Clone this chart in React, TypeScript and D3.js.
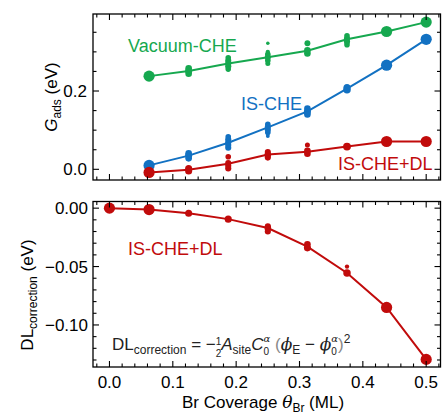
import * as d3 from "d3";
import React from "react";

// Br coverage (ML) of each configuration set
const coverage = [0, 0.0625, 0.125, 0.1875, 0.25, 0.3125, 0.375, 0.4375, 0.5];

// averaged adsorption free energies (eV), coverage index 1..8
const vacuumLine = [0.238, 0.251, 0.27, 0.286, 0.303, 0.332, 0.352, 0.376];
const isCheLine = [0.01, 0.035, 0.068, 0.107, 0.148, 0.206, 0.266, 0.332];
const dlLine = [-0.008, -0.001, 0.014, 0.038, 0.045, 0.058, 0.071, 0.071];
// double-layer correction (eV), coverage index 0..8
const dlCorrLine = [0, -0.0012, -0.0043, -0.0094, -0.017, -0.033, -0.0555, -0.085, -0.1295];

// individual configurations: [coverage index, value, weight]
const vacuumConfigs = [
  [1, 0.238, 1],
  [2, 0.244, 0.35], [2, 0.251, 0.4], [2, 0.258, 0.35],
  [3, 0.256, 0.25], [3, 0.263, 0.3], [3, 0.27, 0.3], [3, 0.277, 0.3], [3, 0.285, 0.25],
  [4, 0.322, 0.1], [4, 0.27, 0.2], [4, 0.278, 0.25], [4, 0.286, 0.3], [4, 0.294, 0.25], [4, 0.3, 0.15],
  [5, 0.322, 0.28], [5, 0.296, 0.35], [5, 0.304, 0.35],
  [6, 0.318, 0.25], [6, 0.326, 0.3], [6, 0.334, 0.3], [6, 0.341, 0.25],
  [7, 0.352, 1], [8, 0.376, 1],
];
const isCheConfigs = [
  [1, 0.01, 1],
  [2, 0.028, 0.35], [2, 0.035, 0.4], [2, 0.041, 0.35],
  [3, 0.055, 0.3], [3, 0.062, 0.3], [3, 0.069, 0.3], [3, 0.076, 0.3], [3, 0.083, 0.25],
  [4, 0.085, 0.12], [4, 0.094, 0.25], [4, 0.101, 0.3], [4, 0.108, 0.3], [4, 0.115, 0.25],
  [5, 0.14, 0.35], [5, 0.147, 0.4], [5, 0.155, 0.35],
  [6, 0.203, 0.45], [6, 0.209, 0.4],
  [7, 0.266, 1], [8, 0.332, 1],
];
const dlConfigs = [
  [1, -0.008, 1],
  [2, -0.004, 0.4], [2, 0.002, 0.4],
  [3, 0.032, 0.25], [3, 0.002, 0.3], [3, 0.009, 0.3], [3, 0.016, 0.3],
  [4, 0.03, 0.3], [4, 0.037, 0.35], [4, 0.044, 0.3],
  [5, 0.062, 0.2], [5, 0.04, 0.35], [5, 0.047, 0.35],
  [6, 0.058, 0.5],
  [7, 0.071, 1], [8, 0.071, 1],
];
const dlCorrConfigs = [
  [0, 0, 1], [1, -0.0012, 1], [2, -0.0043, 0.4], [3, -0.0094, 0.4],
  [4, -0.0155, 0.3], [4, -0.017, 0.35], [4, -0.02, 0.3],
  [5, -0.031, 0.35], [5, -0.034, 0.4],
  [6, -0.05, 0.15], [6, -0.0555, 0.45],
  [7, -0.085, 1], [8, -0.1295, 1],
];

const xTickLabels = [0, 0.1, 0.2, 0.3, 0.4, 0.5];
const topTickLabels = [0, 0.2];
const bottomTickLabels = [0, -0.05, -0.1];

const GREEN = "#16a84f";
const BLUE = "#1271c2";
const RED = "#c10b0b";
const FONT = "'Liberation Sans', Arial, Helvetica, sans-serif";
const SERIF = "'DejaVu Serif', serif";

const W = 442;
const H = 414;
const left = 93;
const right = 440.5;
const top1 = 14;
const bot1 = 180;
const top2 = 201.5;
const bot2 = 367;

const x = d3.scaleLinear().domain([-0.026, 0.5226]).range([left, right]);
const y1 = d3.scaleLinear().domain([-0.0273, 0.3967]).range([bot1, top1]);
const y2 = d3.scaleLinear().domain([-0.136, 0.0057]).range([bot2, top2]);
const rScale = d3.scaleSqrt().domain([0, 1]).range([0, 5.6]);

const fmtTop = d3.format(".1f");
const fmtBot = (v: number) => d3.format(".2f")(v).replace("-", "\u2212");

function Frame({ y, yTop, yBot, majors, minors }: any) {
  const xMaj = d3.range(0, 0.51, 0.1);
  const xMin = d3.range(-0.02, 0.521, 0.02).filter((v) => Math.abs(v * 10 - Math.round(v * 10)) > 1e-6);
  const ticks: any[] = [];
  xMaj.forEach((v) => ticks.push({ v, len: 6 }));
  xMin.forEach((v) => ticks.push({ v, len: 3.5 }));
  const yt: any[] = [];
  majors.forEach((v: number) => yt.push({ v, len: 6 }));
  minors.forEach((v: number) => yt.push({ v, len: 3.5 }));
  return (
    <g stroke="#000" strokeWidth={1.1}>
      {ticks.map((t, i) => (
        <g key={"x" + i}>
          <line x1={x(t.v)} x2={x(t.v)} y1={yBot} y2={yBot - t.len} />
          <line x1={x(t.v)} x2={x(t.v)} y1={yTop} y2={yTop + t.len} />
        </g>
      ))}
      {yt.map((t, i) => (
        <g key={"y" + i}>
          <line x1={left} x2={left + t.len} y1={y(t.v)} y2={y(t.v)} />
          <line x1={right} x2={right - t.len} y1={y(t.v)} y2={y(t.v)} />
        </g>
      ))}
      <rect x={left} y={yTop} width={right - left} height={yBot - yTop} fill="none" strokeWidth={1.3} />
    </g>
  );
}

function Series({ line, offset, configs, y, color }: any) {
  const path = d3
    .line<number>()
    .x((_, i) => x(coverage[i + offset]))
    .y((d) => y(d))(line);
  return (
    <g>
      <path d={path || ""} fill="none" stroke={color} strokeWidth={2} />
      {configs.map((c: number[], i: number) => (
        <circle key={i} cx={x(coverage[c[0]])} cy={y(c[1])} r={rScale(c[2])} fill={color} />
      ))}
    </g>
  );
}

export default function App() {
  const topMinors = d3.range(0, 0.4, 0.05).filter((v) => !topTickLabels.some((m) => Math.abs(m - v) < 1e-6));
  const botMinors = d3.range(0, -0.136, -0.01).filter((v) => !bottomTickLabels.some((m) => Math.abs(m - v) < 1e-6));
  return (
    <svg width={W} height={H} style={{ position: "absolute", left: 0, top: 0 }} fontFamily={FONT}>
      <rect width={W} height={H} fill="#fff" />
      {/* top panel */}
      <Series line={vacuumLine} offset={1} configs={vacuumConfigs} y={y1} color={GREEN} />
      <Series line={isCheLine} offset={1} configs={isCheConfigs} y={y1} color={BLUE} />
      <Series line={dlLine} offset={1} configs={dlConfigs} y={y1} color={RED} />
      <Frame y={y1} yTop={top1} yBot={bot1} majors={topTickLabels} minors={topMinors} />
      {topTickLabels.map((v) => (
        <text key={v} x={87} y={y1(v) + 6} textAnchor="end" fontSize={17}>
          {fmtTop(v)}
        </text>
      ))}
      <text x={128} y={52} fontSize={18} fill={GREEN}>Vacuum-CHE</text>
      <text x={241} y={110} fontSize={18} fill={BLUE}>IS-CHE</text>
      <text x={338} y={170} fontSize={18} fill={RED}>IS-CHE+DL</text>
      <text transform="translate(57,97) rotate(-90)" textAnchor="middle" fontSize={17}>
        <tspan fontStyle="italic">G</tspan>
        <tspan fontSize={12} dy={4}>ads</tspan>
        <tspan dy={-4}> (eV)</tspan>
      </text>

      {/* bottom panel */}
      <Series line={dlCorrLine} offset={0} configs={dlCorrConfigs} y={y2} color={RED} />
      <Frame y={y2} yTop={top2} yBot={bot2} majors={bottomTickLabels} minors={botMinors} />
      {bottomTickLabels.map((v) => (
        <text key={v} x={88} y={y2(v) + 6} textAnchor="end" fontSize={17}>
          {fmtBot(v)}
        </text>
      ))}
      {xTickLabels.map((v) => (
        <text key={v} x={x(v)} y={388} textAnchor="middle" fontSize={17}>
          {fmtTop(v)}
        </text>
      ))}
      <text x={128} y={255} fontSize={18} fill={RED}>IS-CHE+DL</text>
      <text transform="translate(33,295) rotate(-90)" textAnchor="middle" fontSize={17}>
        <tspan>DL</tspan>
        <tspan fontSize={12} dy={4}>correction</tspan>
        <tspan dy={-4}> (eV)</tspan>
      </text>
      <text x={263} y={408} textAnchor="middle" fontSize={17}>
        <tspan>Br Coverage </tspan>
        <tspan fontStyle="italic" fontFamily={SERIF}>θ</tspan>
        <tspan fontSize={12} dy={4}>Br</tspan>
        <tspan dy={-4}> (ML)</tspan>
      </text>

      {/* formula */}
      <text x={112} y={350} fontSize={17} fill="#222">
        <tspan>DL</tspan>
        <tspan fontSize={12} dy={4}>correction</tspan>
        <tspan dy={-4}> = −</tspan>
        <tspan fontSize={10} dy={-5}>1</tspan>
        <tspan fontSize={10} dx={-5.6} dy={12}>2</tspan>
        <tspan fontStyle="italic" dy={-7}>A</tspan>
        <tspan fontSize={12} dy={4}>site</tspan>
        <tspan fontStyle="italic" dy={-4}>C</tspan>
        <tspan fontSize={10} dy={5}>0</tspan>
        <tspan fontSize={10} fontStyle="italic" fontFamily={SERIF} dx={-5.6} dy={-13}>α</tspan>
        <tspan fill="#888" dy={8}> (</tspan>
        <tspan fontStyle="italic" fontFamily={SERIF}>ϕ</tspan>
        <tspan fontSize={12} dy={4}>E</tspan>
        <tspan dy={-4}> − </tspan>
        <tspan fontStyle="italic" fontFamily={SERIF}>ϕ</tspan>
        <tspan fontSize={10} dy={5}>0</tspan>
        <tspan fontSize={10} fontStyle="italic" fontFamily={SERIF} dx={-5.6} dy={-13}>α</tspan>
        <tspan fill="#888" dy={8}>)</tspan>
        <tspan fontSize={12} dy={-7}>2</tspan>
      </text>
    </svg>
  );
}
